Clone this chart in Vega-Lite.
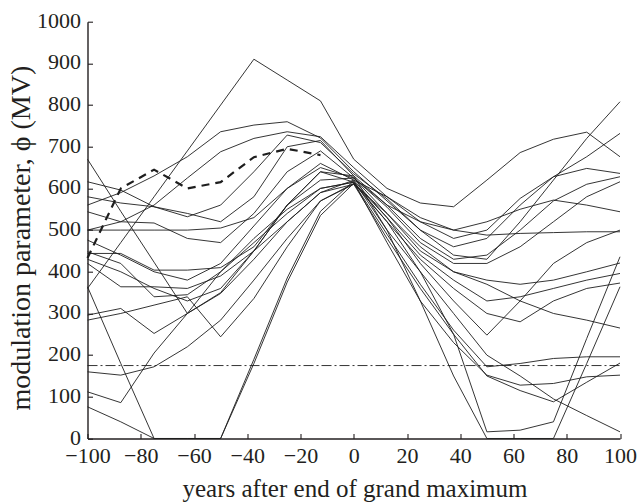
{
  "$schema": "https://vega.github.io/schema/vega-lite/v6.json",
  "width": 532.5,
  "height": 416.8,
  "autosize": {"type": "none"},
  "padding": {"left": 87.5, "top": 21.7, "right": 20, "bottom": 64.5},
  "background": "white",
  "config": {
    "view": {"stroke": null},
    "axis": {
      "grid": false,
      "domainColor": "#231f20",
      "domainWidth": 1.4,
      "tickColor": "#231f20",
      "tickWidth": 1.1,
      "tickSize": -5,
      "labelFont": "Liberation Serif",
      "labelFontSize": 22,
      "labelColor": "#231f20",
      "titleFont": "Liberation Serif",
      "titleFontWeight": "normal",
      "titleColor": "#231f20"
    }
  },
  "datasets": {
    "runs": [
      {"run": 1, "t": -100, "phi": 360}, {"run": 1, "t": -87.5, "phi": 470}, {"run": 1, "t": -75, "phi": 580}, {"run": 1, "t": -62.5, "phi": 690}, {"run": 1, "t": -50, "phi": 800}, {"run": 1, "t": -37.5, "phi": 910}, {"run": 1, "t": -25, "phi": 860}, {"run": 1, "t": -12.5, "phi": 810}, {"run": 1, "t": 0, "phi": 670}, {"run": 1, "t": 12.5, "phi": 600}, {"run": 1, "t": 25, "phi": 565}, {"run": 1, "t": 37.5, "phi": 556}, {"run": 1, "t": 50, "phi": 620}, {"run": 1, "t": 62.5, "phi": 686}, {"run": 1, "t": 75, "phi": 718}, {"run": 1, "t": 87.5, "phi": 735}, {"run": 1, "t": 100, "phi": 676},
      {"run": 2, "t": -100, "phi": 560}, {"run": 2, "t": -87.5, "phi": 590}, {"run": 2, "t": -75, "phi": 630}, {"run": 2, "t": -62.5, "phi": 676}, {"run": 2, "t": -50, "phi": 736}, {"run": 2, "t": -37.5, "phi": 752}, {"run": 2, "t": -25, "phi": 760}, {"run": 2, "t": -12.5, "phi": 721}, {"run": 2, "t": 0, "phi": 640}, {"run": 2, "t": 12.5, "phi": 570}, {"run": 2, "t": 25, "phi": 500}, {"run": 2, "t": 37.5, "phi": 440}, {"run": 2, "t": 50, "phi": 430}, {"run": 2, "t": 62.5, "phi": 520}, {"run": 2, "t": 75, "phi": 620}, {"run": 2, "t": 87.5, "phi": 720}, {"run": 2, "t": 100, "phi": 808},
      {"run": 3, "t": -100, "phi": 500}, {"run": 3, "t": -87.5, "phi": 520}, {"run": 3, "t": -75, "phi": 560}, {"run": 3, "t": -62.5, "phi": 625}, {"run": 3, "t": -50, "phi": 688}, {"run": 3, "t": -37.5, "phi": 720}, {"run": 3, "t": -25, "phi": 736}, {"run": 3, "t": -12.5, "phi": 724}, {"run": 3, "t": 0, "phi": 650}, {"run": 3, "t": 12.5, "phi": 580}, {"run": 3, "t": 25, "phi": 520}, {"run": 3, "t": 37.5, "phi": 480}, {"run": 3, "t": 50, "phi": 500}, {"run": 3, "t": 62.5, "phi": 576}, {"run": 3, "t": 75, "phi": 628}, {"run": 3, "t": 87.5, "phi": 676}, {"run": 3, "t": 100, "phi": 732},
      {"run": 4, "t": -100, "phi": 670}, {"run": 4, "t": -87.5, "phi": 545}, {"run": 4, "t": -75, "phi": 423}, {"run": 4, "t": -62.5, "phi": 300}, {"run": 4, "t": -50, "phi": 350}, {"run": 4, "t": -37.5, "phi": 450}, {"run": 4, "t": -25, "phi": 560}, {"run": 4, "t": -12.5, "phi": 640}, {"run": 4, "t": 0, "phi": 630}, {"run": 4, "t": 12.5, "phi": 500}, {"run": 4, "t": 25, "phi": 400}, {"run": 4, "t": 37.5, "phi": 300}, {"run": 4, "t": 50, "phi": 200}, {"run": 4, "t": 62.5, "phi": 150}, {"run": 4, "t": 75, "phi": 95}, {"run": 4, "t": 87.5, "phi": 55}, {"run": 4, "t": 100, "phi": 16},
      {"run": 5, "t": -100, "phi": 500}, {"run": 5, "t": -87.5, "phi": 500}, {"run": 5, "t": -75, "phi": 500}, {"run": 5, "t": -62.5, "phi": 500}, {"run": 5, "t": -50, "phi": 505}, {"run": 5, "t": -37.5, "phi": 530}, {"run": 5, "t": -25, "phi": 600}, {"run": 5, "t": -12.5, "phi": 650}, {"run": 5, "t": 0, "phi": 625}, {"run": 5, "t": 12.5, "phi": 560}, {"run": 5, "t": 25, "phi": 520}, {"run": 5, "t": 37.5, "phi": 500}, {"run": 5, "t": 50, "phi": 488}, {"run": 5, "t": 62.5, "phi": 492}, {"run": 5, "t": 75, "phi": 494}, {"run": 5, "t": 87.5, "phi": 496}, {"run": 5, "t": 100, "phi": 496},
      {"run": 6, "t": -100, "phi": 444}, {"run": 6, "t": -87.5, "phi": 444}, {"run": 6, "t": -75, "phi": 404}, {"run": 6, "t": -62.5, "phi": 404}, {"run": 6, "t": -50, "phi": 410}, {"run": 6, "t": -37.5, "phi": 460}, {"run": 6, "t": -25, "phi": 560}, {"run": 6, "t": -12.5, "phi": 620}, {"run": 6, "t": 0, "phi": 625}, {"run": 6, "t": 12.5, "phi": 540}, {"run": 6, "t": 25, "phi": 460}, {"run": 6, "t": 37.5, "phi": 400}, {"run": 6, "t": 50, "phi": 380}, {"run": 6, "t": 62.5, "phi": 370}, {"run": 6, "t": 75, "phi": 380}, {"run": 6, "t": 87.5, "phi": 400}, {"run": 6, "t": 100, "phi": 421},
      {"run": 7, "t": -100, "phi": 420}, {"run": 7, "t": -87.5, "phi": 364}, {"run": 7, "t": -75, "phi": 364}, {"run": 7, "t": -62.5, "phi": 360}, {"run": 7, "t": -50, "phi": 390}, {"run": 7, "t": -37.5, "phi": 450}, {"run": 7, "t": -25, "phi": 520}, {"run": 7, "t": -12.5, "phi": 590}, {"run": 7, "t": 0, "phi": 620}, {"run": 7, "t": 12.5, "phi": 530}, {"run": 7, "t": 25, "phi": 440}, {"run": 7, "t": 37.5, "phi": 380}, {"run": 7, "t": 50, "phi": 330}, {"run": 7, "t": 62.5, "phi": 340}, {"run": 7, "t": 75, "phi": 360}, {"run": 7, "t": 87.5, "phi": 380}, {"run": 7, "t": 100, "phi": 396},
      {"run": 8, "t": -100, "phi": 448}, {"run": 8, "t": -87.5, "phi": 420}, {"run": 8, "t": -75, "phi": 340}, {"run": 8, "t": -62.5, "phi": 345}, {"run": 8, "t": -50, "phi": 400}, {"run": 8, "t": -37.5, "phi": 470}, {"run": 8, "t": -25, "phi": 540}, {"run": 8, "t": -12.5, "phi": 600}, {"run": 8, "t": 0, "phi": 615}, {"run": 8, "t": 12.5, "phi": 520}, {"run": 8, "t": 25, "phi": 430}, {"run": 8, "t": 37.5, "phi": 360}, {"run": 8, "t": 50, "phi": 300}, {"run": 8, "t": 62.5, "phi": 280}, {"run": 8, "t": 75, "phi": 330}, {"run": 8, "t": 87.5, "phi": 360}, {"run": 8, "t": 100, "phi": 373},
      {"run": 9, "t": -100, "phi": 296}, {"run": 9, "t": -87.5, "phi": 312}, {"run": 9, "t": -75, "phi": 252}, {"run": 9, "t": -62.5, "phi": 300}, {"run": 9, "t": -50, "phi": 348}, {"run": 9, "t": -37.5, "phi": 430}, {"run": 9, "t": -25, "phi": 520}, {"run": 9, "t": -12.5, "phi": 590}, {"run": 9, "t": 0, "phi": 610}, {"run": 9, "t": 12.5, "phi": 540}, {"run": 9, "t": 25, "phi": 450}, {"run": 9, "t": 37.5, "phi": 400}, {"run": 9, "t": 50, "phi": 370}, {"run": 9, "t": 62.5, "phi": 330}, {"run": 9, "t": 75, "phi": 300}, {"run": 9, "t": 87.5, "phi": 284}, {"run": 9, "t": 100, "phi": 265},
      {"run": 10, "t": -100, "phi": 284}, {"run": 10, "t": -87.5, "phi": 300}, {"run": 10, "t": -75, "phi": 320}, {"run": 10, "t": -62.5, "phi": 340}, {"run": 10, "t": -50, "phi": 244}, {"run": 10, "t": -37.5, "phi": 336}, {"run": 10, "t": -25, "phi": 460}, {"run": 10, "t": -12.5, "phi": 570}, {"run": 10, "t": 0, "phi": 612}, {"run": 10, "t": 12.5, "phi": 490}, {"run": 10, "t": 25, "phi": 370}, {"run": 10, "t": 37.5, "phi": 260}, {"run": 10, "t": 50, "phi": 172}, {"run": 10, "t": 62.5, "phi": 180}, {"run": 10, "t": 75, "phi": 192}, {"run": 10, "t": 87.5, "phi": 196}, {"run": 10, "t": 100, "phi": 196},
      {"run": 11, "t": -100, "phi": 160}, {"run": 11, "t": -87.5, "phi": 152}, {"run": 11, "t": -75, "phi": 172}, {"run": 11, "t": -62.5, "phi": 220}, {"run": 11, "t": -50, "phi": 284}, {"run": 11, "t": -37.5, "phi": 380}, {"run": 11, "t": -25, "phi": 480}, {"run": 11, "t": -12.5, "phi": 570}, {"run": 11, "t": 0, "phi": 610}, {"run": 11, "t": 12.5, "phi": 480}, {"run": 11, "t": 25, "phi": 360}, {"run": 11, "t": 37.5, "phi": 250}, {"run": 11, "t": 50, "phi": 150}, {"run": 11, "t": 62.5, "phi": 115}, {"run": 11, "t": 75, "phi": 88}, {"run": 11, "t": 87.5, "phi": 135}, {"run": 11, "t": 100, "phi": 181},
      {"run": 12, "t": -100, "phi": 112}, {"run": 12, "t": -87.5, "phi": 86}, {"run": 12, "t": -75, "phi": 205}, {"run": 12, "t": -62.5, "phi": 300}, {"run": 12, "t": -50, "phi": 400}, {"run": 12, "t": -37.5, "phi": 480}, {"run": 12, "t": -25, "phi": 550}, {"run": 12, "t": -12.5, "phi": 600}, {"run": 12, "t": 0, "phi": 615}, {"run": 12, "t": 12.5, "phi": 470}, {"run": 12, "t": 25, "phi": 330}, {"run": 12, "t": 37.5, "phi": 230}, {"run": 12, "t": 50, "phi": 152}, {"run": 12, "t": 62.5, "phi": 128}, {"run": 12, "t": 75, "phi": 132}, {"run": 12, "t": 87.5, "phi": 148}, {"run": 12, "t": 100, "phi": 152},
      {"run": 13, "t": -100, "phi": 364}, {"run": 13, "t": -87.5, "phi": 180}, {"run": 13, "t": -75, "phi": 0}, {"run": 13, "t": -62.5, "phi": 0}, {"run": 13, "t": -50, "phi": 0}, {"run": 13, "t": -37.5, "phi": 190}, {"run": 13, "t": -25, "phi": 385}, {"run": 13, "t": -12.5, "phi": 545}, {"run": 13, "t": 0, "phi": 618}, {"run": 13, "t": 12.5, "phi": 500}, {"run": 13, "t": 25, "phi": 330}, {"run": 13, "t": 37.5, "phi": 150}, {"run": 13, "t": 50, "phi": 0}, {"run": 13, "t": 62.5, "phi": 0}, {"run": 13, "t": 75, "phi": 0}, {"run": 13, "t": 87.5, "phi": 180}, {"run": 13, "t": 100, "phi": 364},
      {"run": 14, "t": -100, "phi": 76}, {"run": 14, "t": -87.5, "phi": 40}, {"run": 14, "t": -75, "phi": 0}, {"run": 14, "t": -62.5, "phi": 0}, {"run": 14, "t": -50, "phi": 0}, {"run": 14, "t": -37.5, "phi": 180}, {"run": 14, "t": -25, "phi": 375}, {"run": 14, "t": -12.5, "phi": 535}, {"run": 14, "t": 0, "phi": 612}, {"run": 14, "t": 12.5, "phi": 520}, {"run": 14, "t": 25, "phi": 400}, {"run": 14, "t": 37.5, "phi": 250}, {"run": 14, "t": 50, "phi": 16}, {"run": 14, "t": 62.5, "phi": 20}, {"run": 14, "t": 75, "phi": 40}, {"run": 14, "t": 87.5, "phi": 240}, {"run": 14, "t": 100, "phi": 436},
      {"run": 15, "t": -100, "phi": 616}, {"run": 15, "t": -87.5, "phi": 596}, {"run": 15, "t": -75, "phi": 556}, {"run": 15, "t": -62.5, "phi": 532}, {"run": 15, "t": -50, "phi": 560}, {"run": 15, "t": -37.5, "phi": 640}, {"run": 15, "t": -25, "phi": 728}, {"run": 15, "t": -12.5, "phi": 710}, {"run": 15, "t": 0, "phi": 635}, {"run": 15, "t": 12.5, "phi": 575}, {"run": 15, "t": 25, "phi": 500}, {"run": 15, "t": 37.5, "phi": 460}, {"run": 15, "t": 50, "phi": 480}, {"run": 15, "t": 62.5, "phi": 560}, {"run": 15, "t": 75, "phi": 628}, {"run": 15, "t": 87.5, "phi": 648}, {"run": 15, "t": 100, "phi": 636},
      {"run": 16, "t": -100, "phi": 580}, {"run": 16, "t": -87.5, "phi": 565}, {"run": 16, "t": -75, "phi": 556}, {"run": 16, "t": -62.5, "phi": 540}, {"run": 16, "t": -50, "phi": 520}, {"run": 16, "t": -37.5, "phi": 580}, {"run": 16, "t": -25, "phi": 700}, {"run": 16, "t": -12.5, "phi": 715}, {"run": 16, "t": 0, "phi": 630}, {"run": 16, "t": 12.5, "phi": 560}, {"run": 16, "t": 25, "phi": 480}, {"run": 16, "t": 37.5, "phi": 430}, {"run": 16, "t": 50, "phi": 440}, {"run": 16, "t": 62.5, "phi": 500}, {"run": 16, "t": 75, "phi": 570}, {"run": 16, "t": 87.5, "phi": 610}, {"run": 16, "t": 100, "phi": 628},
      {"run": 17, "t": -100, "phi": 544}, {"run": 17, "t": -87.5, "phi": 520}, {"run": 17, "t": -75, "phi": 517}, {"run": 17, "t": -62.5, "phi": 480}, {"run": 17, "t": -50, "phi": 470}, {"run": 17, "t": -37.5, "phi": 540}, {"run": 17, "t": -25, "phi": 640}, {"run": 17, "t": -12.5, "phi": 690}, {"run": 17, "t": 0, "phi": 625}, {"run": 17, "t": 12.5, "phi": 555}, {"run": 17, "t": 25, "phi": 470}, {"run": 17, "t": 37.5, "phi": 420}, {"run": 17, "t": 50, "phi": 420}, {"run": 17, "t": 62.5, "phi": 460}, {"run": 17, "t": 75, "phi": 520}, {"run": 17, "t": 87.5, "phi": 580}, {"run": 17, "t": 100, "phi": 616},
      {"run": 18, "t": -100, "phi": 476}, {"run": 18, "t": -87.5, "phi": 440}, {"run": 18, "t": -75, "phi": 400}, {"run": 18, "t": -62.5, "phi": 380}, {"run": 18, "t": -50, "phi": 420}, {"run": 18, "t": -37.5, "phi": 510}, {"run": 18, "t": -25, "phi": 600}, {"run": 18, "t": -12.5, "phi": 660}, {"run": 18, "t": 0, "phi": 620}, {"run": 18, "t": 12.5, "phi": 580}, {"run": 18, "t": 25, "phi": 530}, {"run": 18, "t": 37.5, "phi": 500}, {"run": 18, "t": 50, "phi": 520}, {"run": 18, "t": 62.5, "phi": 550}, {"run": 18, "t": 75, "phi": 572}, {"run": 18, "t": 87.5, "phi": 560}, {"run": 18, "t": 100, "phi": 544},
      {"run": 19, "t": -100, "phi": 430}, {"run": 19, "t": -87.5, "phi": 400}, {"run": 19, "t": -75, "phi": 360}, {"run": 19, "t": -62.5, "phi": 330}, {"run": 19, "t": -50, "phi": 360}, {"run": 19, "t": -37.5, "phi": 450}, {"run": 19, "t": -25, "phi": 560}, {"run": 19, "t": -12.5, "phi": 640}, {"run": 19, "t": 0, "phi": 615}, {"run": 19, "t": 12.5, "phi": 530}, {"run": 19, "t": 25, "phi": 420}, {"run": 19, "t": 37.5, "phi": 330}, {"run": 19, "t": 50, "phi": 248}, {"run": 19, "t": 62.5, "phi": 330}, {"run": 19, "t": 75, "phi": 420}, {"run": 19, "t": 87.5, "phi": 470}, {"run": 19, "t": 100, "phi": 500}
    ],
    "grandMax": [
      {"t": -100, "phi": 433}, {"t": -87.5, "phi": 600}, {"t": -75, "phi": 645}, {"t": -62.5, "phi": 600}, {"t": -50, "phi": 615}, {"t": -37.5, "phi": 675}, {"t": -25, "phi": 695}, {"t": -12.5, "phi": 680}
    ],
    "threshold": [
      {"t": -100, "phi": 175}, {"t": 100, "phi": 175}
    ]
  },
  "encoding": {
    "x": {
      "field": "t",
      "type": "quantitative",
      "scale": {"domain": [-100, 100], "nice": false, "zero": false},
      "axis": {
        "title": "years after end of grand maximum",
        "format": "d",
        "values": [-100, -80, -60, -40, -20, 0, 20, 40, 60, 80, 100],
        "labelPadding": 12,
        "titleFontSize": 25,
        "titleX": 267,
        "titleY": 58,
        "titleBaseline": "alphabetic",
        "titleAlign": "center",
        "labelFlush": false,
        "labelOverlap": false
      }
    },
    "y": {
      "field": "phi",
      "type": "quantitative",
      "scale": {"domain": [0, 1000], "nice": false},
      "axis": {
        "title": "modulation parameter, ϕ (MV)",
        "format": "d",
        "values": [0, 100, 200, 300, 400, 500, 600, 700, 800, 900, 1000],
        "labelPadding": 12,
        "labelOffset": -1.5,
        "titleFontSize": 28,
        "titleX": -66,
        "titleY": 216,
        "titleAngle": -90,
        "titleAlign": "center",
        "titleBaseline": "middle",
        "labelFlush": false,
        "labelOverlap": false
      }
    }
  },
  "layer": [
    {
      "data": {"name": "runs"},
      "mark": {"type": "line", "color": "#1e1e1e", "strokeWidth": 0.9},
      "encoding": {"detail": {"field": "run", "type": "nominal"}}
    },
    {
      "data": {"name": "threshold"},
      "mark": {"type": "line", "color": "#1e1e1e", "strokeWidth": 0.9, "strokeDash": [10, 3, 2, 3]},
      "encoding": {}
    },
    {
      "data": {"name": "grandMax"},
      "mark": {"type": "line", "color": "#1e1e1e", "strokeWidth": 2.2, "strokeDash": [8, 6]},
      "encoding": {}
    }
  ]
}
